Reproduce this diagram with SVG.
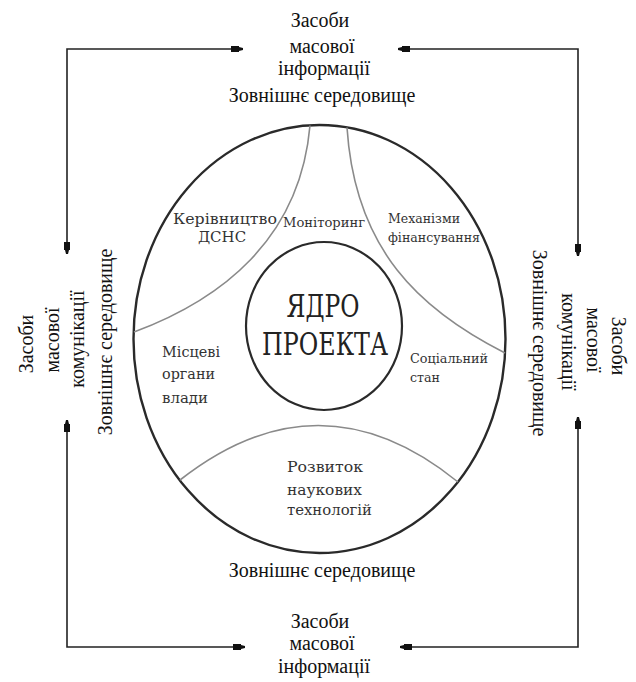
<svg xmlns="http://www.w3.org/2000/svg" width="636" height="682" viewBox="0 0 636 682">
<style>
.outer{font-family:"Liberation Serif","Times New Roman",serif;font-size:20px;fill:#111;text-anchor:middle}
.inner{font-family:"DejaVu Serif","Liberation Serif",serif;fill:#333}
.s15{font-size:15px}
.s12{font-size:12px}
.core{font-family:"DejaVu Serif","Liberation Serif",serif;font-size:31px;fill:#222;text-anchor:middle}
.conn{fill:none;stroke:#222;stroke-width:1.6;marker-start:url(#ah);marker-end:url(#ah)}
.div{fill:none;stroke:#8a8a8a;stroke-width:1.6}
</style>
<defs>
<marker id="ah" viewBox="0 -4 13 8" refX="12" refY="0" markerWidth="13" markerHeight="8" markerUnits="userSpaceOnUse" orient="auto-start-reverse">
<path d="M0,-3 L8,-3 L8,-2 L12,-1 L12,1 L8,2 L8,3 L0,3 Z" fill="#111"/>
</marker>
</defs>
<rect width="636" height="682" fill="#fff"/>

<g id="connectors">
<path class="conn" d="M243,49 H67 V254"/>
<path class="conn" d="M398,49 H578 V256"/>
<path class="conn" d="M245,647 H67 V420"/>
<path class="conn" d="M400,647 H578 V417"/>
</g>

<g id="environment">
<ellipse cx="319.5" cy="339" rx="186" ry="214" fill="none" stroke="#2a2a2a" stroke-width="2.4"/>
<path class="div" d="M310,125.5 C300,240 220,300 134,332"/>
<path class="div" d="M347,127.5 C355,250 420,310 505,353"/>
<path class="div" d="M180,480 Q320,370 458,482"/>
</g>

<g id="core">
<ellipse cx="324" cy="326" rx="78" ry="84" fill="none" stroke="#2a2a2a" stroke-width="2.2"/>
<text class="core" x="323" y="317" textLength="73" lengthAdjust="spacingAndGlyphs">ЯДРО</text>
<text class="core" x="325" y="355" textLength="126" lengthAdjust="spacingAndGlyphs">ПРОЕКТА</text>
</g>

<g id="kerivnytstvo">
<text class="inner s15" x="173" y="224" textLength="104" lengthAdjust="spacingAndGlyphs">Керівництво</text>
<text class="inner s15" x="222" y="242" text-anchor="middle">ДСНС</text>
</g>
<g id="monitoring">
<text class="inner s12" x="324" y="227" text-anchor="middle" textLength="82" lengthAdjust="spacingAndGlyphs">Моніторинг</text>
</g>
<g id="mekhanizmy">
<text class="inner s12" x="388" y="223" textLength="72" lengthAdjust="spacingAndGlyphs">Механізми</text>
<text class="inner s12" x="388" y="242" textLength="92" lengthAdjust="spacingAndGlyphs">фінансування</text>
</g>
<g id="mistsevi">
<text class="inner s15" x="162" y="357" textLength="58" lengthAdjust="spacingAndGlyphs">Місцеві</text>
<text class="inner s15" x="162" y="379" textLength="53" lengthAdjust="spacingAndGlyphs">органи</text>
<text class="inner s15" x="162" y="403" textLength="46" lengthAdjust="spacingAndGlyphs">влади</text>
</g>
<g id="sotsialnyi">
<text class="inner s12" x="410" y="363" textLength="78" lengthAdjust="spacingAndGlyphs">Соціальний</text>
<text class="inner s12" x="410" y="382" textLength="30" lengthAdjust="spacingAndGlyphs">стан</text>
</g>
<g id="rozvytok">
<text class="inner s15" x="287" y="472" textLength="76" lengthAdjust="spacingAndGlyphs">Розвиток</text>
<text class="inner s15" x="287" y="495" textLength="75" lengthAdjust="spacingAndGlyphs">наукових</text>
<text class="inner s15" x="287" y="515" textLength="85" lengthAdjust="spacingAndGlyphs">технологій</text>
</g>

<g id="top-media">
<text class="outer" x="320" y="27">Засоби</text>
<text class="outer" x="322" y="53">масової</text>
<text class="outer" x="324" y="75">інформації</text>
</g>
<g id="top-env"><text class="outer" x="322" y="102">Зовнішнє середовище</text></g>

<g id="bottom-env"><text class="outer" x="322" y="577">Зовнішнє середовище</text></g>
<g id="bottom-media">
<text class="outer" x="320" y="628">Засоби</text>
<text class="outer" x="322" y="650">масової</text>
<text class="outer" x="324" y="673">інформації</text>
</g>

<g id="left-media">
<text class="outer" transform="translate(33,344) rotate(-90)">Засоби</text>
<text class="outer" transform="translate(59,340) rotate(-90)">масової</text>
<text class="outer" transform="translate(84,339) rotate(-90)">комунікації</text>
</g>
<g id="left-env"><text class="outer" transform="translate(112,342) rotate(-90)">Зовнішнє середовище</text></g>

<g id="right-media">
<text class="outer" transform="translate(612,346) rotate(90)">Засоби</text>
<text class="outer" transform="translate(587,340) rotate(90)">масової</text>
<text class="outer" transform="translate(562,342) rotate(90)">комунікації</text>
</g>
<g id="right-env"><text class="outer" transform="translate(533,343) rotate(90)">Зовнішнє середовище</text></g>
</svg>
